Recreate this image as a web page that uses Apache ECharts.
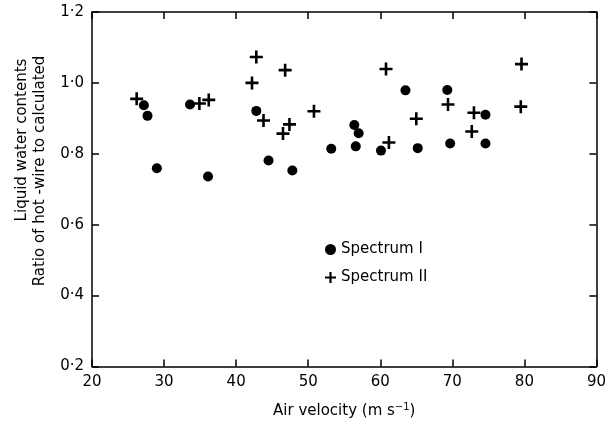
<!DOCTYPE html>
<html><head><meta charset="utf-8">
<script src="https://cdn.jsdelivr.net/npm/echarts@6/dist/echarts.min.js"></script>
<style>html,body{margin:0;padding:0;background:#fff}#c{width:609px;height:424px}</style>
</head><body><div id="c"></div>
<script>
const spectrum1 = [
  [27.2,0.937],[27.7,0.907],[29.0,0.759],[33.6,0.939],[36.1,0.736],[42.8,0.921],
  [44.5,0.781],[47.8,0.753],[53.2,0.814],[56.4,0.881],[57.0,0.858],[56.6,0.821],
  [60.1,0.809],[63.5,0.979],[65.2,0.816],[69.3,0.980],[69.7,0.829],[74.6,0.910],[74.6,0.829]
];
const spectrum2 = [
  [26.2,0.955],[34.9,0.942],[36.2,0.952],[42.2,1.0],[42.8,1.073],[43.8,0.894],
  [46.8,1.036],[46.5,0.857],[47.4,0.883],[50.8,0.920],[60.8,1.039],[61.2,0.832],
  [65.0,0.899],[69.4,0.939],[73.0,0.916],[72.7,0.863],[79.6,1.053],[79.5,0.933]
];
const seriesNames = ['Spectrum I','Spectrum II'];
const xTitle = 'Air velocity';
const yTitle1 = 'Liquid water contents';
const yTitle2 = 'Ratio of hot -wire to calculated';

const FONT = 'DejaVu Sans';
const plus = 'path://M4,0H6V4H10V6H6V10H4V6H0V4H4Z';
const fmtY = v => v.toFixed(1).replace('.', '\u00b7');
const chart = echarts.init(document.getElementById('c'));
const tick = {show:true, inside:true, length:7, lineStyle:{color:'#000', width:1.5}};
const line = {show:true, lineStyle:{color:'#000', width:1.5}};
chart.setOption({
  animation:false,
  backgroundColor:'#fff',
  grid:{left:92, right:11, top:12, bottom:55},
  xAxis:[{
    type:'value', min:20, max:90, interval:10, position:'bottom',
    axisLine:line, axisTick:tick, splitLine:{show:false},
    axisLabel:{color:'#000', fontFamily:FONT, fontSize:15, margin:8},
    name:'{t|'+xTitle+' (m s}{s|\u22121}{t|)}', nameLocation:'middle', nameGap:36,
    nameTextStyle:{rich:{t:{fontFamily:FONT, fontSize:15, color:'#000'}, s:{fontFamily:FONT, fontSize:10, color:'#000', verticalAlign:'top', padding:[0,0,8,0]}}}
  },{
    type:'value', min:20, max:90, interval:10, position:'top',
    axisLine:line, axisTick:tick, splitLine:{show:false}, axisLabel:{show:false}
  }],
  yAxis:[{
    type:'value', min:0.2, max:1.2, interval:0.2, position:'left',
    axisLine:line, axisTick:tick, splitLine:{show:false},
    axisLabel:{color:'#000', fontFamily:FONT, fontSize:15, margin:8, formatter:fmtY}
  },{
    type:'value', min:0.2, max:1.2, interval:0.2, position:'right',
    axisLine:line, axisTick:tick, splitLine:{show:false}, axisLabel:{show:false}
  }],
  legend:{
    left:320, top:237, orient:'vertical', itemGap:13, itemWidth:11, itemHeight:11,
    textStyle:{fontFamily:FONT, fontSize:15, color:'#000'},
    data:[{name:seriesNames[0], icon:'circle', itemStyle:{opacity:1}},{name:seriesNames[1], icon:plus, itemStyle:{opacity:1}}]
  },
  graphic:[
    {type:'text', rotation:Math.PI/2, x:22, y:140,
     style:{text:yTitle1, font:'15px '+FONT, fill:'#000', align:'center', verticalAlign:'middle'}},
    {type:'text', rotation:Math.PI/2, x:40, y:171,
     style:{text:yTitle2, font:'15px '+FONT, fill:'#000', align:'center', verticalAlign:'middle'}}
  ],
  series:[
    {name:seriesNames[0], type:'scatter', data:spectrum1, symbol:'circle', symbolSize:10, itemStyle:{color:'#000', opacity:1}},
    {name:seriesNames[1], type:'scatter', data:spectrum2, symbol:plus, symbolSize:13, itemStyle:{color:'#000', opacity:1}}
  ]
});
</script></body></html>
